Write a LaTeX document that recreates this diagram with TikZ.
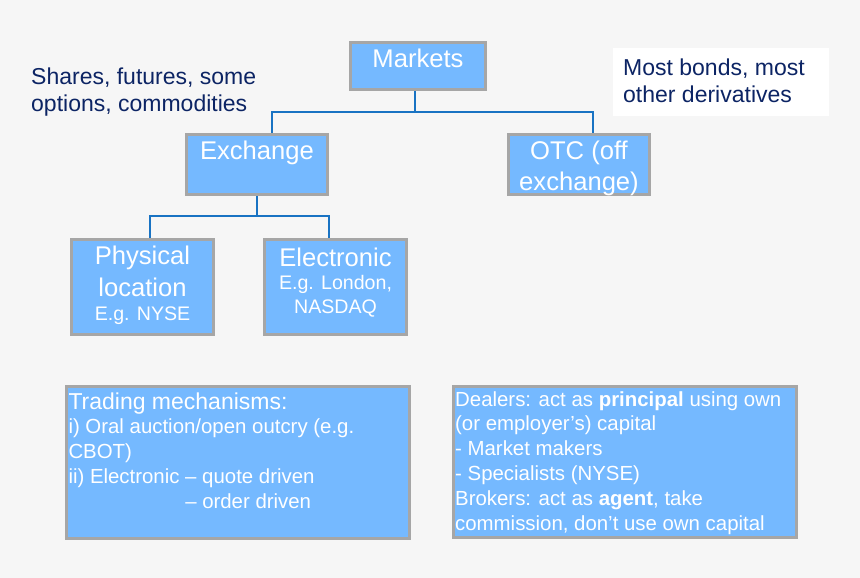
\documentclass[tikz,border=0pt]{standalone}
\usepackage{fontspec}
\setmainfont{Liberation Sans}
\usetikzlibrary{positioning}
\definecolor{paper}{RGB}{246,246,246}
\definecolor{cell}{RGB}{117,185,255}
\definecolor{edge}{RGB}{166,166,166}
\definecolor{wire}{RGB}{25,115,195}
\definecolor{ink}{RGB}{12,36,100}
\newcommand\smalltext{\fontsize{19.6}{24.5}\selectfont}
\begin{document}
\begin{tikzpicture}[x=1pt,y=-1pt,
  box/.style={draw=edge,line width=3pt,fill=cell,inner sep=0},
  big/.style={text=white,inner sep=0,font=\fontsize{25.6}{31}\selectfont,align=center},
  note/.style={text=ink,inner sep=0,font=\fontsize{23}{27}\selectfont,align=left},
  body/.style={text=white,inner sep=0,font=\fontsize{20.4}{24.8}\selectfont,align=left},
  link/.style={draw=wire,line width=2pt}]
 \useasboundingbox[fill=paper] (0,0) rectangle (860,578);
 % top level (base = last line)
 \node[box,minimum width=135pt,minimum height=47pt] (mkt) at (418,66) {};
 \node[big,anchor=base] (mkt-t) at (418,68) {Markets};
 \node[note,anchor=base west] (shares) at (31,111) {Shares, futures, some\\options, commodities};
 \node[fill=white,minimum width=216pt,minimum height=68pt,inner sep=0] (bondbox) at (721,82) {};
 \node[note,anchor=base west] (bonds) at (623,102.7) {Most bonds, most\\other derivatives};
 % second level
 \node[box,minimum width=141pt,minimum height=60pt] (exch) at (257,164.5) {};
 \node[big,anchor=base] (exch-t) at (257,159.3) {Exchange};
 \node[box,minimum width=141pt,minimum height=60pt] (otc) at (579,164.5) {};
 \node[big,anchor=base] (otc-t) at (579,190) {OTC (off\\exchange)};
 \coordinate (j1) at (415,112);
 \draw[link] ([xshift=-3pt]mkt.south) -- (j1);
 \draw[link] ([xshift=15pt]exch.north) |- (j1) -| ([xshift=14pt]otc.north);
 % exchange types
 \node[box,minimum width=142pt,minimum height=95pt] (phys) at (142.5,287) {};
 \node[big,anchor=base] (phys-t) at (142.5,320) {Physical\\[1pt]location\\[-7pt]{\smalltext E.g. NYSE}};
 \node[box,minimum width=142pt,minimum height=95pt] (elec) at (335.5,287) {};
 \node[big,anchor=base] (elec-t) at (335.5,313) {Electronic\\[-8pt]{\smalltext E.g. London,}\\[-7pt]{\smalltext NASDAQ}};
 \coordinate (j2) at (257,216);
 \draw[link] (exch.south) -- (j2);
 \draw[link] ([xshift=7pt]phys.north) |- (j2) -| ([xshift=-7pt]elec.north);
 % notes
 \node[box,minimum width=343pt,minimum height=152pt] (trade) at (238,462.5) {};
 \node[body,anchor=base west] (trade-t) at (68.3,508.3) {{\fontsize{23}{25}\selectfont Trading mechanisms:}\\
   i) Oral auction/open outcry (e.g.\\CBOT)\\ii) Electronic -- quote driven\\
   \hphantom{ii) Electronic }-- order driven};
 \node[box,minimum width=343pt,minimum height=151pt] (deal) at (625,462) {};
 \node[body,anchor=base west] (deal-t) at (455,530) {Dealers: act as \textbf{principal} using own\\
   (or employer’s) capital\\- Market makers\\- Specialists (NYSE)\\
   Brokers: act as \textbf{agent}, take\\commission, don’t use own capital};
\end{tikzpicture}
\end{document}
